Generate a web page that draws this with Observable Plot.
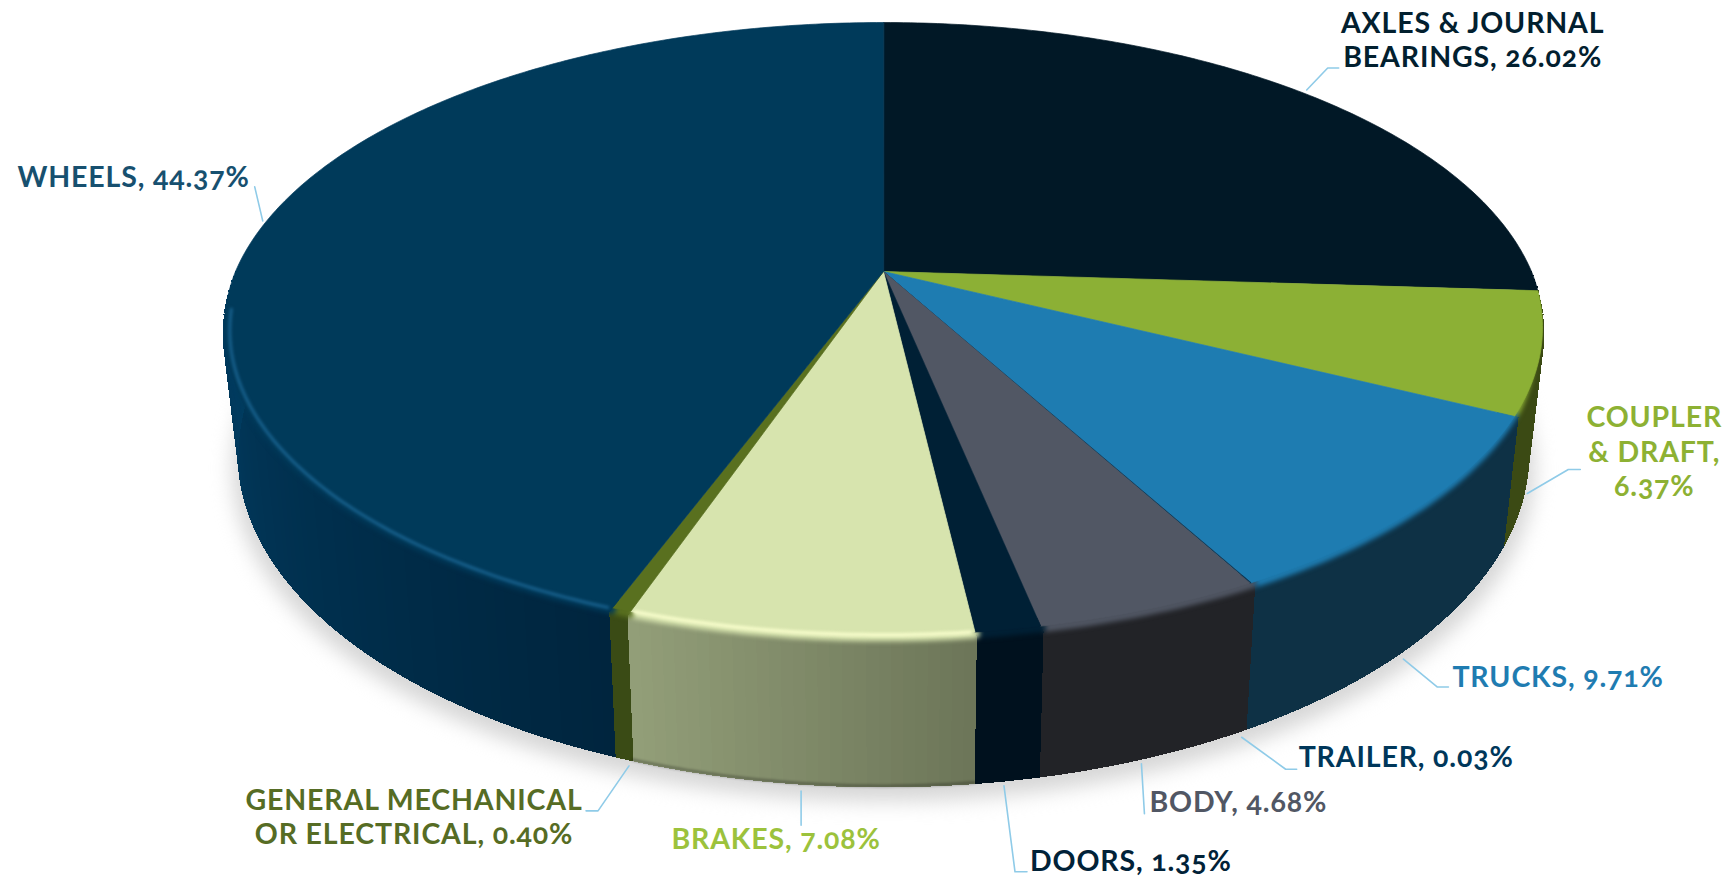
<!DOCTYPE html>
<html>
<head>
<meta charset="utf-8">
<title>Failure causes by component</title>
<script src="https://cdn.jsdelivr.net/npm/d3@7"></script>
<script src="https://cdn.jsdelivr.net/npm/@observablehq/plot@0.6"></script>
<style>
  html, body { margin: 0; padding: 0; background: #fff; overflow: hidden; }
  .pie-label { letter-spacing: 0.85px; }
</style>
</head>
<body>
<div id="chart"></div>
<script>
// Shares by component, clockwise from twelve o'clock.
const categories = ["AXLES & JOURNAL BEARINGS", "COUPLER & DRAFT", "TRUCKS", "TRAILER", "BODY", "DOORS", "BRAKES", "GENERAL MECHANICAL OR ELECTRICAL", "WHEELS"];
const shares = [26.02, 6.37, 9.71, 0.03, 4.68, 1.35, 7.08, 0.40, 44.37];
const labelLines = [
  ["AXLES & JOURNAL", "BEARINGS, 26.02%"],
  ["COUPLER", "& DRAFT,", "6.37%"],
  ["TRUCKS, 9.71%"],
  ["TRAILER, 0.03%"],
  ["BODY, 4.68%"],
  ["DOORS, 1.35%"],
  ["BRAKES, 7.08%"],
  ["GENERAL MECHANICAL", "OR ELECTRICAL, 0.40%"],
  ["WHEELS, 44.37%"]
];

// Colours per component: top face, side wall at each end of the slice, label text.
const topColors = ["#011826", "#8cb035", "#1e7cb1", "#0b3350", "#515764", "#002035", "#d7e4ae", "#59701f", "#003a5a"];
const wallFrom = ["#011826", "#3b4a14", "#0e3145", "#0e3145", "#222327", "#00111e", "#6c7558", "#3a4b15", "#00253e"];
const wallTo = ["#011826", "#3b4a14", "#0e3145", "#0e3145", "#222327", "#00111e", "#939f79", "#3a4b15", "#013d62"];
const textColors = ["#02202f", "#8db133", "#1f7cb1", "#00375a", "#515764", "#012238", "#9cc23c", "#566c24", "#17506f"];

// Where each leader runs and its label sits, relative to the slice's rim anchor.
const leaderOffsets = [
  [[6, -2], [27, -24], [38, -24]],
  [[0, 16], [41, -8], [53, -8]],
  [[-6, 12], [28, 40], [39, 40]],
  [[-5, 8], [39, 40], [50, 40]],
  [[-6, 6], [-3, 56]],
  [[-3, 5], [8, 91], [20, 91]],
  [[1, 7], [1, 41]],
  [[5, 7], [-26, 52], [-38, 52]],
  [[-4, 0], [-12, -34]]
];
const labelOffsets = [[172, -53], [127, -27], [43, 29], [52, 27], [2, 43], [23, 79], [-24, 54], [-210, 57], [-17, -45]];
const labelAnchors = ["middle", "middle", "start", "start", "start", "start", "middle", "middle", "end"];

// Perspective disc: apex, foreshortening and wall depth of the tilted pie.
const apexX = 883, apexY = 271, halfWidth = 648, tilt = 0.1942, depthY = -244.7;
const wallHeight = 118, baseScale = 0.977;
const total = d3.sum(shares);

function rim(pct, radius = 1) {
  const angle = (pct / total) * 2 * Math.PI;
  const along = radius * Math.cos(angle);
  const denom = 1 + tilt * along;
  return {
    x: apexX + (halfWidth * radius * Math.sin(angle)) / denom,
    y: (depthY * along + apexY) / denom
  };
}
function base(pct, grow = baseScale, drop = 0) {
  const p = rim(pct);
  const denom = 1 + tilt * Math.cos((pct / total) * 2 * Math.PI);
  return { x: apexX + (p.x - apexX) * grow, y: p.y + wallHeight / denom + drop };
}
function steps(from, to, step = 0.2) {
  const n = Math.max(1, Math.ceil((to - from) / step));
  return d3.range(n + 1).map((i) => from + ((to - from) * i) / n);
}
// The front of the top face sits slightly inside the rim so that the soft bevel shows.
function inset(pct) {
  return 1 - 0.012 * Math.max(0, -Math.cos((pct / total) * 2 * Math.PI));
}
// The bevel slides under the top face towards the silhouette, whose edge stays crisp.
function bevelRadius(pct) {
  const share = (pct / total) * 100;
  return 0.992 - 0.003 * Math.max(0, Math.abs(share - 50) - 18);
}

const ends = d3.cumsum(shares);
const slices = categories.map((name, i) => ({
  name, i, start: i ? ends[i - 1] : 0, end: ends[i], mid: (i ? ends[i - 1] : 0) + shares[i] / 2
}));

// Top faces, closed through the apex.
const topPoints = slices.flatMap((s) => [
  { id: s.name, paint: topColors[s.i], x: apexX, y: apexY },
  ...steps(s.start, s.end).map((p) => ({ id: s.name, paint: topColors[s.i], ...rim(p, inset(p)) }))
]);

// Side walls as narrow strips so the shading can change around the rim.
// Each strip reaches in under the top face, leaving no gap below the bevel,
// while its sides still run from the rim down to the base.
const wallPoints = [];
const bandPoints = [];
for (const s of slices) {
  const from = Math.max(s.start, total * 0.25), to = Math.min(s.end, total * 0.75);
  if (from >= to) continue;
  const ramp = d3.interpolateRgb(wallFrom[s.i], wallTo[s.i]);
  const ps = steps(from, to, 0.25);
  d3.pairs(ps).forEach(([a, b], k) => {
    const id = `${s.name}-${k}`, paint = ramp((k + 0.5) / (ps.length - 1));
    const add = (q) => wallPoints.push({ id, paint, ...q });
    add(rim(a, 0.97)); add(rim(b, 0.97)); add(rim(b)); add(base(b)); add(base(a)); add(rim(a));
  });
  ps.forEach((p) => bandPoints.push({ id: s.name, paint: topColors[s.i], ...rim(p, bevelRadius(p)) }));
}

const shadowPoints = steps(0, total, 0.5).map((p) => ({ id: "shadow", paint: "#d6d6d6", ...base(p, 0.985, 14) }));
const lipPoints = steps(ends[5], ends[6], 0.2).map((p) => base(p, baseScale, -1));
const wheelGlow = steps(ends[7] + 0.1, total * 0.73, 0.25).map((p) => rim(p, 0.99));
const brakeGlow = steps(ends[5] + 0.1, ends[6] - 0.1, 0.2).map((p) => rim(p, 0.988));

// Leaders start at the rim of the front walls, or the top rim for slices at the back.
function anchorOf(s) {
  const angle = (s.mid / total) * 2 * Math.PI;
  return Math.cos(angle) < -0.2 ? base(s.mid) : rim(s.mid);
}
const leaderPoints = slices.flatMap((s) => {
  const a = anchorOf(s);
  return leaderOffsets[s.i].map(([dx, dy]) => ({ id: s.name, x: a.x + dx, y: a.y + dy }));
});
const labels = slices.map((s) => {
  const a = anchorOf(s);
  return {
    text: labelLines[s.i].join("\n"), color: textColors[s.i], anchor: labelAnchors[s.i],
    x: a.x + labelOffsets[s.i][0], y: a.y + labelOffsets[s.i][1]
  };
});

const filled = (data, extra = {}) => Plot.line(data, {
  x: "x", y: "y", z: "id", fill: (d) => d.paint, stroke: (d) => d.paint,
  strokeWidth: 0.7, curve: "linear-closed", ...extra
});
const textMark = (anchor) => Plot.text(labels.filter((d) => d.anchor === anchor), {
  x: "x", y: "y", text: "text", fill: "color", textAnchor: anchor,
  fontFamily: "Lato", fontWeight: 700, fontSize: 28.5, lineHeight: 1.22,
  fontVariant: "oldstyle-nums", className: "pie-label"
});

const chart = Plot.plot({
  width: 1729, height: 877, margin: 0,
  style: { background: "#fff" },
  x: { domain: [0, 1729], range: [0, 1729], axis: null },
  y: { domain: [0, 877], range: [0, 877], axis: null },
  color: { type: "identity" },
  marks: [
    filled(shadowPoints, { imageFilter: "blur(10px)" }),
    filled(wallPoints, { shapeRendering: "crispEdges", strokeWidth: 1 }),
    Plot.line(lipPoints, { x: "x", y: "y", stroke: "#000", strokeOpacity: 0.25, strokeWidth: 3, imageFilter: "blur(1px)" }),
    Plot.line(bandPoints, { x: "x", y: "y", z: "id", stroke: (d) => d.paint, strokeWidth: 9, imageFilter: "blur(2.5px)" }),
    filled(topPoints),
    Plot.line(wheelGlow, { x: "x", y: "y", stroke: "#17608c", strokeWidth: 3, imageFilter: "blur(1.5px)" }),
    Plot.line(brakeGlow, { x: "x", y: "y", stroke: "#f5fbc9", strokeWidth: 4, imageFilter: "blur(1.5px)" }),
    Plot.line(leaderPoints, { x: "x", y: "y", z: "id", stroke: "#8fcbe8", strokeWidth: 1.6 }),
    textMark("middle"), textMark("start"), textMark("end")
  ]
});
document.getElementById("chart").append(chart);
</script>
</body>
</html>
